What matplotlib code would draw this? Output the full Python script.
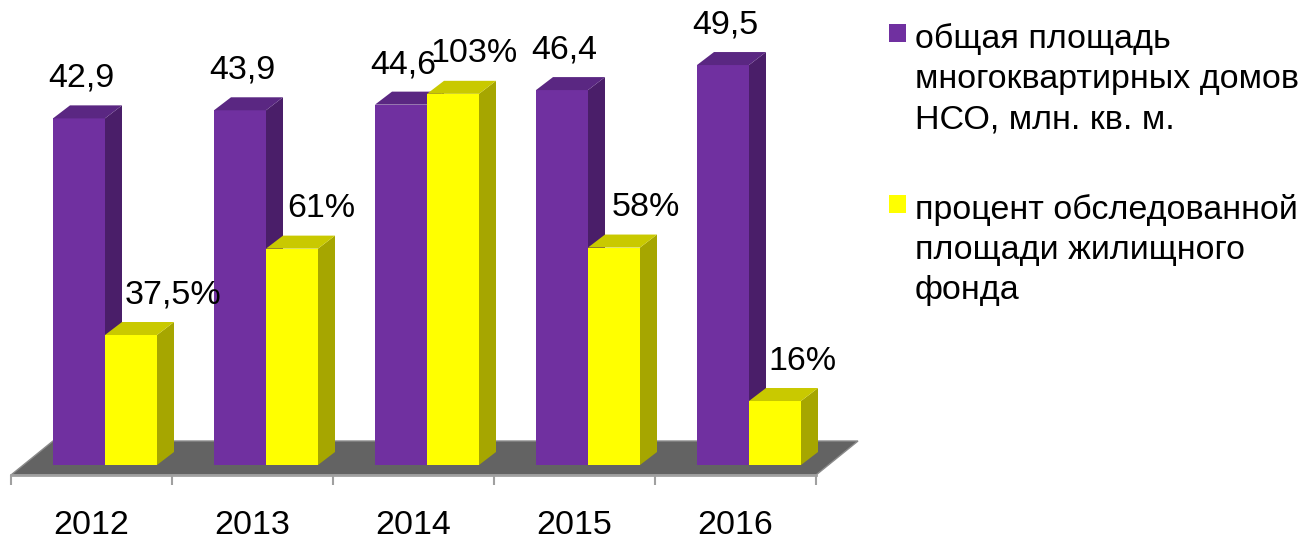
import matplotlib
matplotlib.use("Agg")
import matplotlib.pyplot as plt
from matplotlib.patches import Polygon, Rectangle
import numpy as np

plt.rcParams['font.family'] = ['Liberation Sans', 'DejaVu Sans']

# data
years = ['2012', '2013', '2014', '2015', '2016']
total_area = np.array([42.9, 43.9, 44.6, 46.4, 49.5])      # mln sq m
surveyed_pct = np.array([37.5, 61, 103, 58, 16])            # %
total_labels = ['42,9', '43,9', '44,6', '46,4', '49,5']
pct_labels = ['37,5%', '61%', '103%', '58%', '16%']
legend_total = ['общая площадь', 'многоквартирных домов', 'НСО, млн. кв. м.']
legend_pct = ['процент обследованной', 'площади жилищного', 'фонда']

# surveyed area in the same units (bar height)
surveyed_area = total_area * surveyed_pct / 100

# label nudges (px, from left edge of yellow bar)
pct_label_dx = [20, 21, 3, 24, 19]

# colours
purple = '#7030A0'
purple_top = '#5A2782'
purple_side = '#4A1E69'
yellow = '#FFFF00'
yellow_top = '#C9C900'
yellow_side = '#A6A600'
floor_col = '#636363'

fs = 24.5

W, H = 1309, 539
fig = plt.figure(figsize=(W / 100, H / 100), dpi=100)

# axes box in pixels
left, right, bottom, top = 11, 816, 475, 20
ax = fig.add_axes([left / W, (H - bottom) / H, (right - left) / W, (bottom - top) / H])
ppu = 8.08            # pixels per mln sq m
ppc = (right - left) / 5  # pixels per category
y0 = -10 / ppu
ax.set_xlim(-0.5, 4.5)
ax.set_ylim(y0, y0 + (bottom - top) / ppu)

# depth offsets
fdx, fdy = 42 / ppc, 34 / ppu
bdx, bdy = 17 / ppc, 13 / ppu
bw = 52 / ppc
off = (53 - 11) / ppc - 0.5

# floor
ax.add_patch(Polygon([(-0.5, y0), (4.5, y0), (4.5 + fdx, y0 + fdy), (-0.5 + fdx, y0 + fdy)],
                     closed=True, facecolor=floor_col, edgecolor='#8a8a8a', lw=1, zorder=1,
                     clip_on=False))


def bar3d(x0, h, front, topc, side, z):
    ax.bar(x0, h, bw, align='edge', color=front, zorder=z, lw=0)
    ax.add_patch(Polygon([(x0 + bw, 0), (x0 + bw + bdx, bdy), (x0 + bw + bdx, h + bdy), (x0 + bw, h)],
                         closed=True, facecolor=side, lw=0, zorder=z, clip_on=False))
    ax.add_patch(Polygon([(x0, h), (x0 + bw, h), (x0 + bw + bdx, h + bdy), (x0 + bdx, h + bdy)],
                         closed=True, facecolor=topc, lw=0, zorder=z, clip_on=False))


x = np.arange(len(years))
for i in x:
    bar3d(i + off, total_area[i], purple, purple_top, purple_side, 2)
    bar3d(i + off + bw, surveyed_area[i], yellow, yellow_top, yellow_side, 3)
    ax.text(i + off + bw / 2 + 2 / ppc, total_area[i] + 40 / ppu, total_labels[i],
            ha='center', va='center', fontsize=fs, zorder=5)
    ax.text(i + off + bw + pct_label_dx[i] / ppc, surveyed_area[i] + 40 / ppu, pct_labels[i],
            ha='left', va='center', fontsize=fs, zorder=5)

# axes styling
for s in ['top', 'right', 'left']:
    ax.spines[s].set_visible(False)
ax.spines['bottom'].set_color('#a0a0a0')
ax.spines['bottom'].set_linewidth(2)
ax.set_yticks([])
ax.set_xticks(x)
ax.set_xticklabels(years, fontsize=fs)
ax.tick_params(axis='x', which='major', length=0, pad=25.5)
ax.set_xticks(np.arange(-0.5, 5, 1), minor=True)
ax.tick_params(axis='x', which='minor', length=7, width=1.5, color='#a0a0a0')
ax.patch.set_alpha(0)

# legend
def px(xp, yp):
    return xp / W, 1 - yp / H

for yc, lines, col in [(33, legend_total, purple), (204, legend_pct, yellow)]:
    fig.patches.append(Rectangle(px(889, yc + 9), 17 / W, 18 / H, transform=fig.transFigure,
                                 facecolor=col, lw=0))
    for k, t in enumerate(lines):
        fig.text(*px(915, yc + 6 + 40.5 * k), t, fontsize=fs, ha='left', va='center')

fig.savefig('out.png', dpi=100)
